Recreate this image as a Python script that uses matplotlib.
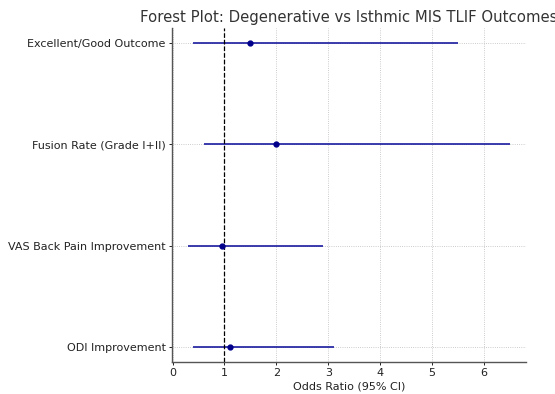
import numpy as np
import matplotlib.pyplot as plt

outcomes = ["ODI Improvement", "VAS Back Pain Improvement",
            "Fusion Rate (Grade I+II)", "Excellent/Good Outcome"]
odds_ratio = [1.1, 0.95, 2.0, 1.5]
ci_low = [0.4, 0.3, 0.6, 0.4]
ci_high = [3.1, 2.9, 6.5, 5.5]

fig = plt.figure(figsize=(5.55, 3.94), dpi=100)
ax = fig.add_axes([0.31, 0.081, 0.638, 0.848])

y = np.arange(len(outcomes))
orr = np.array(odds_ratio)
err = [orr - np.array(ci_low), np.array(ci_high) - orr]
ax.errorbar(orr, y, xerr=err, fmt='o', color='darkblue', ecolor='#1a1aa0',
            markersize=3.5, elinewidth=1.2, capsize=0)
ax.axvline(1, color='black', linestyle='--', linewidth=0.9)

ax.set_yticks(y)
ax.set_yticklabels(outcomes)
ax.set_xlabel("Odds Ratio (95% CI)", fontsize=8, labelpad=2, color='#222222')
ax.set_title("Forest Plot: Degenerative vs Isthmic MIS TLIF Outcomes",
             fontsize=10.7, pad=4, color='#333333')
ax.tick_params(labelsize=8, length=2.5, width=0.6, pad=2, labelcolor='#222222')
ax.grid(True, linestyle=':', linewidth=0.6, color='#bbbbbb')
for s in ['top', 'right']:
    ax.spines[s].set_visible(False)
for s in ['left', 'bottom']:
    ax.spines[s].set_color('#555555')
    ax.spines[s].set_linewidth(1.0)

fig.savefig("out.png", dpi=100)
